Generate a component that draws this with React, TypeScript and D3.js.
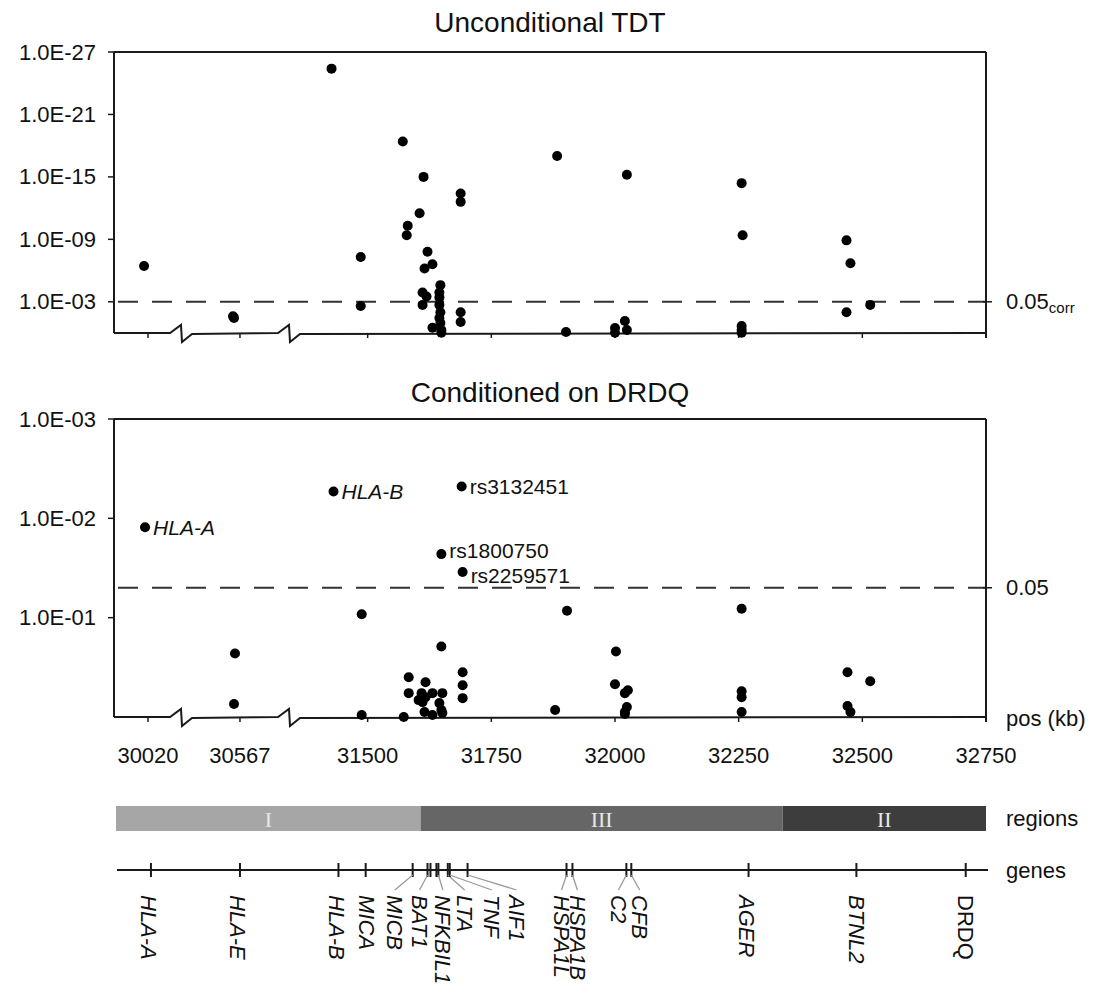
import React from "react";
import * as d3 from "d3";

// ---------- DATA ----------
// x segments (kb) with axis breaks between them
const SEGMENTS_KB: [number, number][] = [
  [29951, 30087],
  [30448, 30666],
  [31341, 32750],
];
const X_TICKS = [30020, 30567, 31500, 31750, 32000, 32250, 32500, 32750];

const TOP_TITLE = "Unconditional TDT";
const BOT_TITLE = "Conditioned on DRDQ";

const TOP_Y_TICKS = [3, 9, 15, 21, 27]; // -log10 p
const BOT_Y_TICKS = [1, 2, 3];
const TOP_THRESHOLD = 3; // 0.05 corrected
const BOT_THRESHOLD = -Math.log10(0.05);

// Unconditional TDT: position (kb), -log10(p)
const topPos = [
  30012, 30553, 30555, 31427, 31486, 31486, 31571, 31581, 31579, 31605,
  31613, 31621, 31631, 31615, 31611, 31619, 31611, 31631,
  31647, 31645, 31645, 31645, 31647, 31645, 31647, 31649, 31649,
  31688, 31688, 31688, 31688, 31883, 31901, 32024, 32000, 32000, 32020,
  32024, 32256, 32258, 32256, 32256, 32256, 32468, 32476, 32468, 32516,
];
const topLogP = [
  6.44, 1.6, 1.45, 25.4, 7.3, 2.6, 18.4, 10.3, 9.4, 11.5,
  15.0, 7.8, 6.6, 6.2, 3.9, 3.5, 2.7, 0.5,
  4.6, 3.9, 3.4, 2.7, 2.0, 1.44, 0.96, 0.29, 0.02,
  13.4, 12.6, 2.0, 1.05, 17.0, 0.1, 15.2, 0.48, 0.02, 1.15,
  0.29, 14.4, 9.4, 0.67, 0.3, 0.02, 8.9, 6.7, 2.0, 2.7,
];

// Conditioned on DRDQ
const botPos = [
  30014, 31431, 31690, 31649, 31692,
  30557, 30555, 31488, 31488, 31573, 31583, 31583, 31617, 31609, 31617,
  31603, 31611, 31631, 31651, 31645, 31615, 31631, 31649, 31651, 31649,
  31692, 31692, 31692, 31879, 31903, 32002, 32000, 32020, 32026, 32024,
  32020, 32020, 32256, 32256, 32256, 32256, 32470, 32516, 32470, 32476,
];
const botLogP = [
  1.91, 2.27, 2.32, 1.64, 1.46,
  0.64, 0.13, 1.035, 0.02, 0.0, 0.4, 0.24, 0.35, 0.24, 0.2,
  0.17, 0.15, 0.24, 0.24, 0.14, 0.05, 0.02, 0.07, 0.04, 0.71,
  0.45, 0.32, 0.19, 0.07, 1.07, 0.66, 0.33, 0.24, 0.27, 0.1,
  0.05, 0.03, 1.09, 0.26, 0.2, 0.05, 0.45, 0.36, 0.11, 0.05,
];
const botLabels = ["HLA-A", "HLA-B", "rs3132451", "rs1800750", "rs2259571"];
const botLabelItalic = [true, true, false, false, false];
const botLabelDy = [0, 0, 0, -4, 4];

// Regions
const regionNames = ["I", "III", "II"];
const regionStart = [29951, 31607, 32339];
const regionEnd = [31607, 32339, 32750];
const regionColors = ["#a6a6a6", "#666666", "#3d3d3d"];

// Genes: tick position (kb), label position (kb)
const geneNames = [
  "HLA-A", "HLA-E", "HLA-B", "MICA", "MICB", "BAT1", "", "", "NFKBIL1",
  "LTA", "TNF", "AIF1", "HSPA1L", "HSPA1B", "C2", "CFB", "AGER", "BTNL2", "DRDQ",
];
const geneTickKb = [
  30026, 30567, 31441, 31496, 31591, 31621, 31627, 31639, 31643,
  31662, 31666, 31702, 31902, 31914, 32023, 32033, 32270, 32488, 32709,
];
const geneLabelKb = [
  30022, 30563, 31437, 31498, 31555, 31605, 31627, 31639, 31652,
  31696, 31751, 31801, 31892, 31924, 32007, 32050, 32266, 32488, 32709,
];
const geneItalic = geneNames.map((n) => n !== "DRDQ");

// ---------- LAYOUT ----------
const W = 1102;
const H = 988;
const FONT = "'Liberation Sans', Arial, Helvetica, sans-serif";
const LEFT = 114;
const RIGHT = 986;
const TOP1 = 52;
const BOT1 = 333;
const TOP2 = 419;
const BOT2 = 717;

// piecewise x scale
const breakX = [181, 289];
const segRanges: [number, number][] = [
  [LEFT, breakX[0]],
  [breakX[0], breakX[1]],
  [breakX[1], RIGHT],
];
const segScales = SEGMENTS_KB.map((d, i) =>
  d3.scaleLinear().domain(d).range(segRanges[i])
);
function xs(kb: number): number {
  for (let i = 0; i < SEGMENTS_KB.length; i++) {
    if (kb <= SEGMENTS_KB[i][1] || i === SEGMENTS_KB.length - 1) {
      return segScales[i](kb);
    }
  }
  return segScales[segScales.length - 1](kb);
}

const yTop = d3.scaleLinear().domain([0, 27]).range([BOT1, TOP1]);
const yBot = d3.scaleLinear().domain([0, 3]).range([BOT2, TOP2]);

const fmtE = (v: number) => `1.0E-${String(v).padStart(2, "0")}`;

function axisPath(y: number): string {
  const p = d3.path();
  p.moveTo(LEFT, y);
  breakX.forEach((bx) => {
    p.lineTo(bx - 11, y);
    p.lineTo(bx, y - 8);
    p.lineTo(bx + 1, y + 9);
    p.lineTo(bx + 11, y + 1);
  });
  p.lineTo(RIGHT, y);
  return p.toString();
}

const STROKE = "#1a1a1a";

function Panel(props: {
  top: number;
  bottom: number;
  y: d3.ScaleLinear<number, number>;
  ticks: number[];
  threshold: number;
  title: string;
  titleY: number;
  pos: number[];
  vals: number[];
  labels?: string[];
  labelItalic?: boolean[];
  labelDy?: number[];
  rightLabel: React.ReactNode;
}) {
  const { top, bottom, y } = props;
  return (
    <g>
      <text
        x={(LEFT + RIGHT) / 2}
        y={props.titleY}
        textAnchor="middle"
        fontSize={28}
        fontFamily={FONT}
        fill="#111"
      >
        {props.title}
      </text>
      {/* frame */}
      <line x1={LEFT} x2={RIGHT} y1={top} y2={top} stroke={STROKE} strokeWidth={2} />
      <line x1={LEFT} x2={LEFT} y1={top} y2={bottom} stroke={STROKE} strokeWidth={2} />
      <line x1={RIGHT} x2={RIGHT} y1={top} y2={bottom + 5} stroke={STROKE} strokeWidth={2} />
      <path d={axisPath(bottom)} fill="none" stroke={STROKE} strokeWidth={2} />
      {/* x ticks */}
      {X_TICKS.map((t) => (
        <line key={t} x1={xs(t)} x2={xs(t)} y1={bottom} y2={bottom + 5} stroke={STROKE} strokeWidth={1.5} />
      ))}
      {/* y ticks */}
      {props.ticks.map((t) => (
        <g key={t}>
          <line x1={LEFT - 6} x2={LEFT} y1={y(t)} y2={y(t)} stroke={STROKE} strokeWidth={1.5} />
          <text
            x={96}
            y={y(t)}
            textAnchor="end"
            dominantBaseline="central"
            fontSize={22}
            fontFamily={FONT}
            fill="#111"
          >
            {fmtE(t)}
          </text>
        </g>
      ))}
      {/* threshold */}
      <line
        x1={LEFT + 4}
        x2={RIGHT}
        y1={y(props.threshold)}
        y2={y(props.threshold)}
        stroke="#333"
        strokeWidth={2}
        strokeDasharray="20,14"
      />
      <line
        x1={RIGHT - 3}
        x2={RIGHT + 6}
        y1={y(props.threshold)}
        y2={y(props.threshold)}
        stroke={STROKE}
        strokeWidth={1.5}
      />
      <text
        x={1006}
        y={y(props.threshold)}
        dominantBaseline="central"
        fontSize={22}
        fontFamily={FONT}
        fill="#111"
      >
        {props.rightLabel}
      </text>
      {/* points */}
      {props.pos.map((p, i) => (
        <circle key={i} cx={xs(p)} cy={y(props.vals[i])} r={5} fill="#000" />
      ))}
      {props.labels &&
        props.labels.map((l, i) => (
          <text
            key={l}
            x={xs(props.pos[i]) + 8}
            y={y(props.vals[i]) + (props.labelDy ? props.labelDy[i] : 0)}
            dominantBaseline="central"
            fontSize={21}
            fontStyle={props.labelItalic && props.labelItalic[i] ? "italic" : "normal"}
            fontFamily={FONT}
            fill="#111"
          >
            {l}
          </text>
        ))}
    </g>
  );
}

export default function App() {
  const geneLineY = 870;
  const barTop = 806;
  const barH = 25;
  return (
    <svg
      width={W}
      height={H}
      viewBox={`0 0 ${W} ${H}`}
      style={{ position: "absolute", left: 0, top: 0, background: "#fff" }}
    >
      <rect x={0} y={0} width={W} height={H} fill="#fff" />
      <Panel
        top={TOP1}
        bottom={BOT1}
        y={yTop}
        ticks={TOP_Y_TICKS}
        threshold={TOP_THRESHOLD}
        title={TOP_TITLE}
        titleY={32}
        pos={topPos}
        vals={topLogP}
        rightLabel={
          <>
            0.05
            <tspan fontSize={15} dy={5}>
              corr
            </tspan>
          </>
        }
      />
      <Panel
        top={TOP2}
        bottom={BOT2}
        y={yBot}
        ticks={BOT_Y_TICKS}
        threshold={BOT_THRESHOLD}
        title={BOT_TITLE}
        titleY={402}
        pos={botPos}
        vals={botLogP}
        labels={botLabels}
        labelItalic={botLabelItalic}
        labelDy={botLabelDy}
        rightLabel="0.05"
      />
      <text x={1006} y={BOT2 + 1} dominantBaseline="central" fontSize={22} fontFamily={FONT} fill="#111">
        pos (kb)
      </text>
      {/* x tick labels */}
      {X_TICKS.map((t) => (
        <text
          key={t}
          x={xs(t)}
          y={755}
          textAnchor="middle"
          dominantBaseline="central"
          fontSize={22}
          fontFamily={FONT}
          fill="#111"
        >
          {t}
        </text>
      ))}
      {/* regions */}
      {regionNames.map((r, i) => {
        const x0 = Math.max(xs(regionStart[i]), LEFT + 2);
        const x1 = xs(regionEnd[i]);
        return (
          <g key={r}>
            <rect x={x0} y={barTop} width={x1 - x0} height={barH} fill={regionColors[i]} />
            <text
              x={(x0 + x1) / 2}
              y={barTop + barH / 2 + 1}
              textAnchor="middle"
              dominantBaseline="central"
              fontSize={22}
              fontFamily="'Liberation Serif', 'Times New Roman', serif"
              fill="#e8e8e8"
            >
              {r}
            </text>
          </g>
        );
      })}
      <text x={1006} y={barTop + barH / 2} dominantBaseline="central" fontSize={22} fontFamily={FONT} fill="#111">
        regions
      </text>
      {/* genes */}
      <line x1={LEFT + 3} x2={RIGHT + 2} y1={geneLineY} y2={geneLineY} stroke={STROKE} strokeWidth={2} />
      <text x={1006} y={geneLineY} dominantBaseline="central" fontSize={22} fontFamily={FONT} fill="#111">
        genes
      </text>
      {geneNames.map((g, i) => {
        const tx = xs(geneTickKb[i]);
        const lx = xs(geneLabelKb[i]);
        const offset = Math.abs(tx - lx) > 3;
        return (
          <g key={i}>
            <line x1={tx} x2={tx} y1={geneLineY - 7} y2={geneLineY + 7} stroke={STROKE} strokeWidth={2} />
            {g && offset && (
              <line x1={tx} x2={lx} y1={geneLineY + 5} y2={890} stroke="#999" strokeWidth={1.3} />
            )}
            {g && (
              <text
                transform={`translate(${lx},895) rotate(90)`}
                dominantBaseline="central"
                fontSize={22}
                fontStyle={geneItalic[i] ? "italic" : "normal"}
                fontFamily={FONT}
                fill="#111"
              >
                {g}
              </text>
            )}
          </g>
        );
      })}
    </svg>
  );
}
